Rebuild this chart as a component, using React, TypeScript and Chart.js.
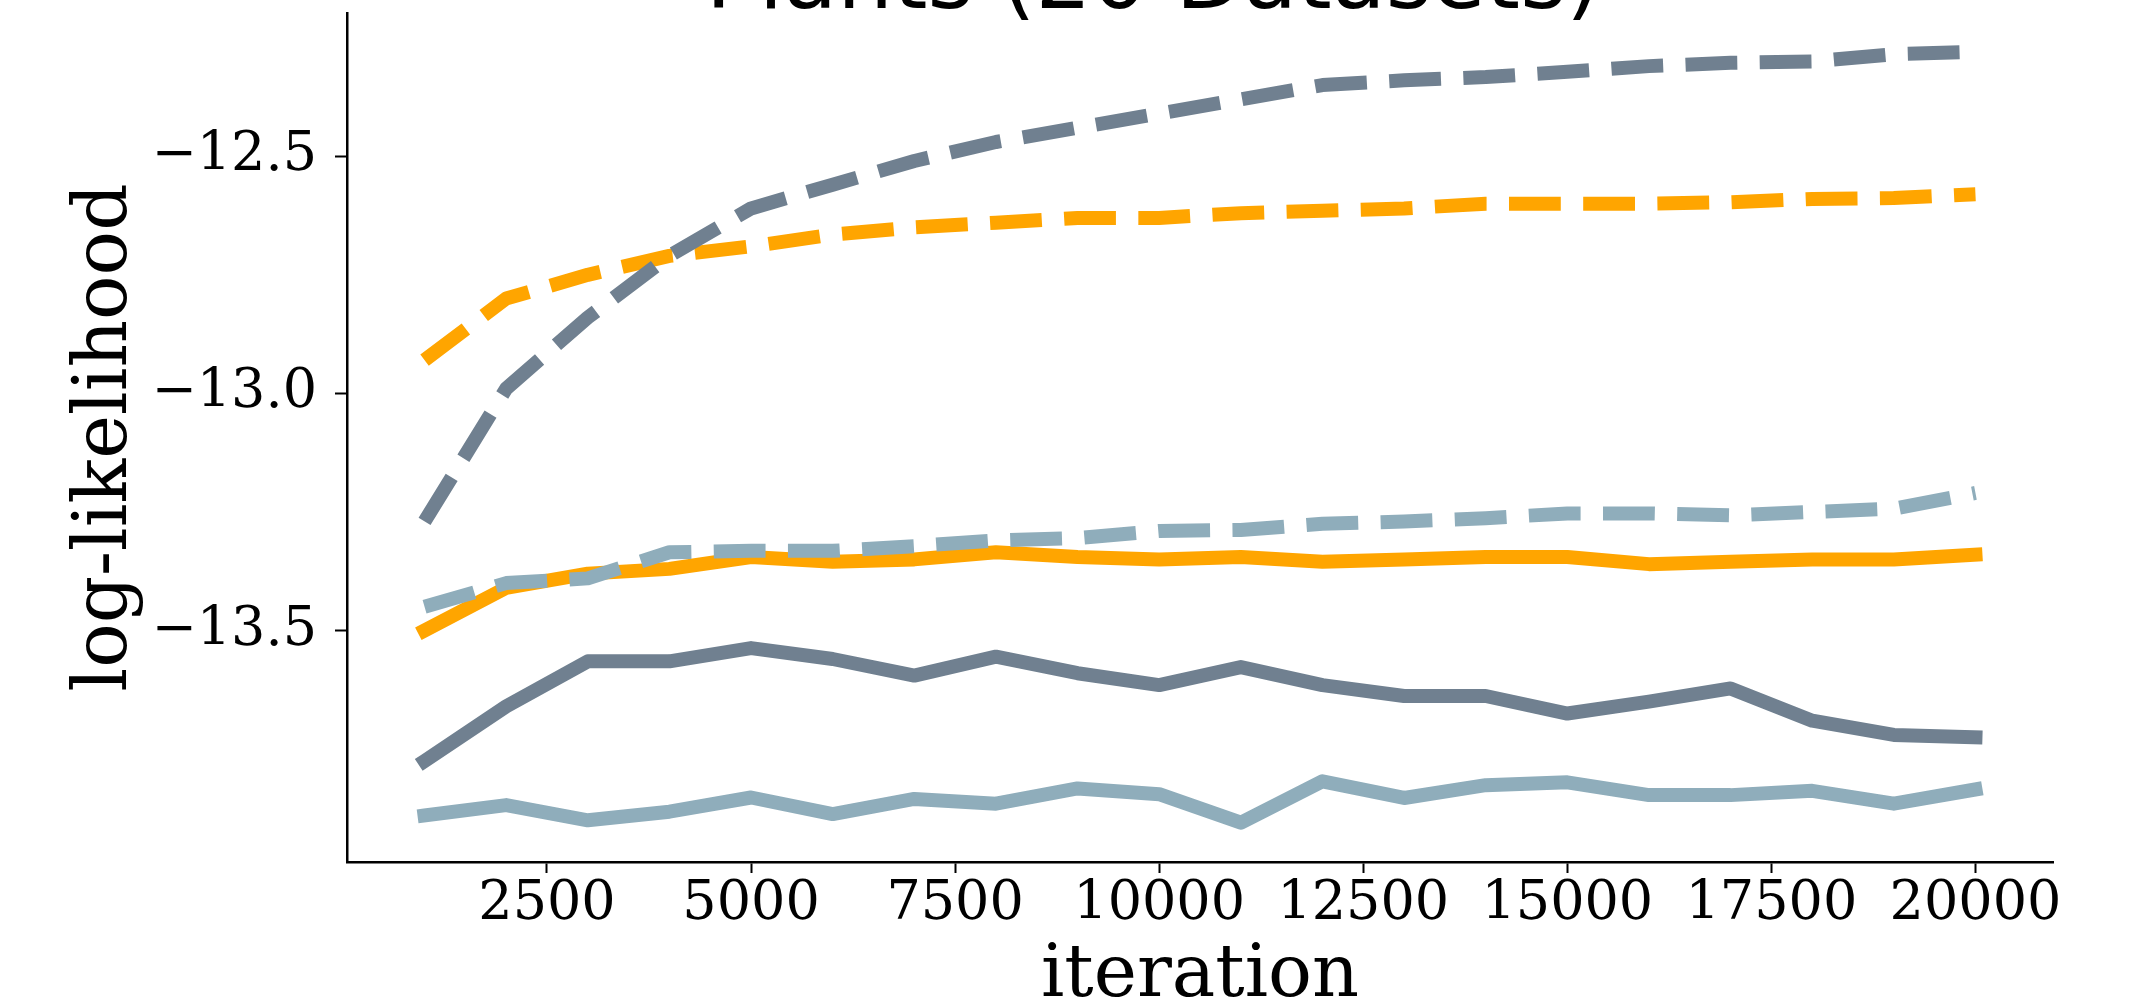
import React, { useEffect, useRef } from "react";
import { Chart, registerables } from "chart.js";

Chart.register(...registerables);

const TITLE = "Plants (20 Datasets)";
const X_LABEL = "iteration";
const Y_LABEL = "log-likelihood";

const iterations = [
  1000, 2000, 3000, 4000, 5000, 6000, 7000, 8000, 9000, 10000,
  11000, 12000, 13000, 14000, 15000, 16000, 17000, 18000, 19000, 20000,
];
const xTicks = [2500, 5000, 7500, 10000, 12500, 15000, 17500, 20000];
const yTicks = [-13.5, -13.0, -12.5];

const orangeSolid = [
  -13.5, -13.41, -13.38, -13.37, -13.345, -13.355, -13.35, -13.335, -13.345, -13.35,
  -13.345, -13.355, -13.35, -13.345, -13.345, -13.36, -13.355, -13.35, -13.35, -13.34,
];
const orangeDashed = [
  -12.93, -12.8, -12.75, -12.71, -12.69, -12.665, -12.65, -12.64, -12.63, -12.63,
  -12.62, -12.615, -12.61, -12.6, -12.6, -12.6, -12.597, -12.59, -12.588, -12.58,
];
const darkSolid = [
  -13.775, -13.66, -13.565, -13.565, -13.537, -13.56, -13.595, -13.555, -13.59, -13.615,
  -13.577, -13.615, -13.638, -13.638, -13.675, -13.65, -13.622, -13.69, -13.72, -13.725,
];
const darkDashed = [
  -13.27, -12.99, -12.84, -12.71, -12.61, -12.56, -12.51, -12.47, -12.44, -12.41,
  -12.38, -12.35, -12.34, -12.333, -12.322, -12.31, -12.303, -12.3, -12.285, -12.28,
];
const lightSolid = [
  -13.89, -13.868, -13.9, -13.882, -13.852, -13.887, -13.855, -13.865, -13.833, -13.845,
  -13.905, -13.818, -13.853, -13.826, -13.82, -13.847, -13.847, -13.838, -13.865, -13.835,
];
const lightDashed = [
  -13.45, -13.4, -13.39, -13.335, -13.332, -13.332, -13.322, -13.31, -13.305, -13.29,
  -13.288, -13.275, -13.27, -13.263, -13.253, -13.253, -13.257, -13.25, -13.243, -13.21,
];

const ORANGE = "#FFA500";
const DARK = "#708090";
const LIGHT = "#8FADBB";

const LW = 14;
const DASH = [51.8, 22.4];

const PLOT_RIGHT = 2053;
const RIGHT_SPACER = 253;
const CANVAS_W = PLOT_RIGHT + RIGHT_SPACER;
const SHIFT = 100;
const CANVAS_H = 1008 + SHIFT;

const pts = (ys: number[]) => iterations.map((x, i) => ({ x, y: ys[i] }));

const fmtY = (v: number) => (v < 0 ? "\u2212" : "") + Math.abs(v).toFixed(1);

export default function App() {
  const ref = useRef<HTMLCanvasElement | null>(null);

  useEffect(() => {
    if (!ref.current) return;
    const mk = (data: number[], color: string, dashed: boolean) => ({
      data: pts(data),
      borderColor: color,
      backgroundColor: color,
      borderWidth: LW,
      borderDash: dashed ? DASH : [],
      borderCapStyle: dashed ? "butt" : "square",
      borderJoinStyle: "round",
      pointRadius: 0,
      pointHoverRadius: 0,
      fill: false,
      tension: 0,
      yAxisID: "y",
    });

    const tickFont = { family: "DejaVu Serif", size: 54 };
    const chart = new Chart(ref.current, {
      type: "line",
      data: {
        // first dataset is drawn on top
        datasets: [
          mk(lightDashed, LIGHT, true),
          mk(lightSolid, LIGHT, false),
          mk(darkDashed, DARK, true),
          mk(darkSolid, DARK, false),
          mk(orangeDashed, ORANGE, true),
          mk(orangeSolid, ORANGE, false),
        ] as any,
      },
      options: {
        animation: false,
        responsive: false,
        devicePixelRatio: 1,
        layout: { padding: { left: 0, right: 0, top: 0, bottom: 0 } },
        plugins: {
          legend: { display: false },
          tooltip: { enabled: false },
          title: {
            display: true,
            text: TITLE,
            color: "#000",
            fullSize: true,
            font: { family: "DejaVu Sans", size: 88, weight: "normal", lineHeight: 0.6 },
            padding: { top: 59, bottom: 1.2 },
          },
        },
        scales: {
          x: {
            type: "linear",
            min: 50,
            max: 20950,
            afterBuildTicks: (s: any) => {
              s.ticks = xTicks.map((v) => ({ value: v }));
            },
            afterFit: (s: any) => {
              s.height = 146;
            },
            ticks: {
              callback: (v: any) => String(v),
              color: "#000",
              font: tickFont,
              padding: 0,
              maxRotation: 0,
              minRotation: 0,
              autoSkip: false,
            },
            grid: {
              drawOnChartArea: false,
              drawTicks: true,
              tickLength: 11,
              tickWidth: 2,
              tickColor: "#000",
              color: "#000",
            },
            border: { display: true, color: "#000", width: 2.5 },
            title: {
              display: true,
              text: X_LABEL,
              color: "#000",
              font: { family: "DejaVu Serif", size: 73, lineHeight: 0.6 },
              padding: { top: 0, bottom: 9.4 },
            },
          },
          y: {
            type: "linear",
            position: "left",
            min: -13.988,
            max: -12.198,
            afterBuildTicks: (s: any) => {
              s.ticks = yTicks.map((v) => ({ value: v }));
            },
            afterFit: (s: any) => {
              s.width = 347;
            },
            ticks: {
              callback: (v: any) => fmtY(Number(v)),
              color: "#000",
              font: tickFont,
              padding: 18,
            },
            grid: {
              drawOnChartArea: false,
              drawTicks: true,
              tickLength: 12,
              tickWidth: 2,
              tickColor: "#000",
              color: "#000",
            },
            border: { display: true, color: "#000", width: 2.5 },
            title: {
              display: true,
              text: Y_LABEL,
              color: "#000",
              font: { family: "DejaVu Serif", size: 74, lineHeight: 1.2 },
              padding: { top: 62, bottom: 0 },
            },
          },
          // empty right-hand spacer (no spine in the reference), keeps the figure's margin
          spacer: {
            type: "linear",
            position: "right",
            min: -13.988,
            max: -12.198,
            afterFit: (s: any) => {
              s.width = RIGHT_SPACER;
            },
            ticks: { display: false },
            grid: { display: false, drawTicks: false },
            border: { display: false },
            title: { display: false },
          },
        },
      } as any,
    });
    return () => chart.destroy();
  }, []);

  return (
    <div
      style={{
        position: "absolute",
        left: 0,
        top: 0,
        width: 2136,
        height: 1008,
        overflow: "hidden",
        background: "#fff",
      }}
    >
      <canvas
        ref={ref}
        width={CANVAS_W}
        height={CANVAS_H}
        style={{
          position: "absolute",
          left: 0,
          top: -SHIFT,
          width: CANVAS_W + "px",
          height: CANVAS_H + "px",
        }}
      />
    </div>
  );
}
